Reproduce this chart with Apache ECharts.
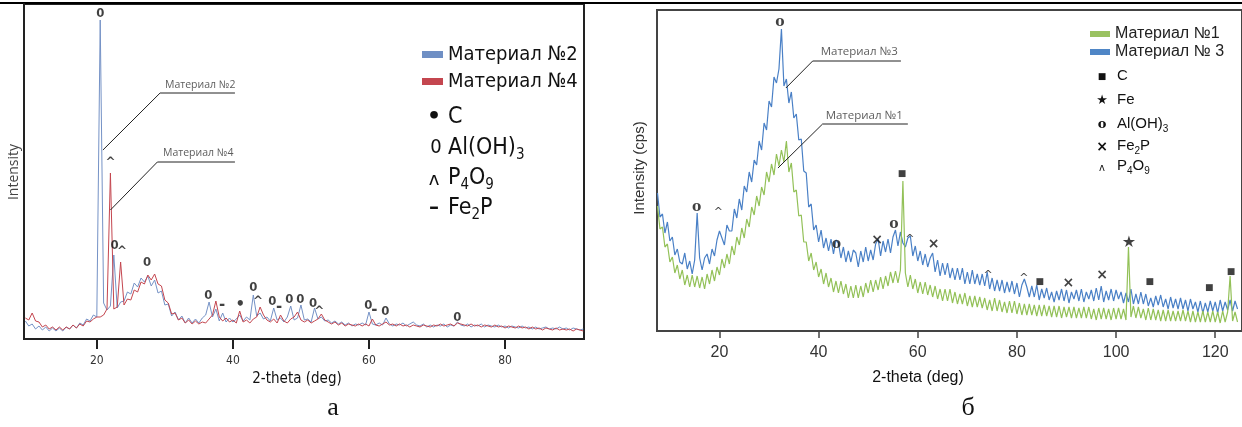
<!DOCTYPE html>
<html>
<head>
<meta charset="utf-8">
<script src="https://cdn.jsdelivr.net/npm/echarts@6/dist/echarts.min.js"></script>
<style>
  html, body { margin: 0; padding: 0; background: #fff; }
  #chart { width: 1242px; height: 427px; }
</style>
</head>
<body>
<div id="chart"></div>
<script>
// panel a: scan from 9.5 deg, step 0.5 deg
var leftStart = 9.5, leftStep = 0.5;
var mat2 = [
  18, 13, 15, 10, 13, 9, 12, 8, 11, 8,
  11, 8, 12, 10, 14, 11, 16, 14, 20, 18,
  24, 22, 319, 36, 29, 33, 84, 31, 37, 38,
  47, 45, 56, 52, 61, 57, 63, 53, 59, 46,
  48, 34, 35, 23, 27, 19, 23, 16, 21, 16,
  20, 16, 21, 24, 37, 22, 30, 18, 26, 17,
  21, 17, 20, 24, 18, 22, 19, 44, 23, 26,
  20, 22, 18, 31, 19, 21, 17, 22, 33, 19,
  21, 34, 19, 20, 17, 31, 20, 22, 18, 19,
  16, 18, 15, 17, 14, 16, 13, 15, 14, 16,
  14, 27, 15, 14, 16, 14, 21, 15, 13, 15,
  14, 16, 13, 15, 17, 14, 13, 15, 12, 14,
  12, 14, 13, 15, 12, 14, 13, 17, 14, 13,
  15, 12, 14, 13, 15, 12, 14, 13, 12, 14,
  12, 13, 11, 13, 12, 11, 13, 11, 12, 10,
  12, 10, 11, 12, 10, 11, 10, 12, 10, 11,
  9, 11, 10, 9, 10
];
var mat4 = [
  21, 19, 26, 18, 17, 12, 14, 10, 12, 9,
  12, 9, 12, 10, 14, 11, 15, 13, 18, 17,
  20, 22, 22, 24, 30, 166, 30, 32, 77, 34,
  40, 39, 49, 47, 57, 55, 64, 59, 65, 55,
  53, 39, 36, 25, 26, 19, 21, 16, 19, 15,
  18, 15, 17, 16, 20, 24, 38, 22, 18, 21,
  17, 19, 16, 28, 17, 19, 16, 20, 22, 32,
  24, 19, 17, 20, 16, 24, 18, 16, 20, 22,
  27, 19, 17, 19, 16, 18, 20, 25, 19, 17,
  15, 17, 14, 16, 13, 15, 14, 13, 15, 13,
  15, 13, 20, 14, 13, 15, 17, 14, 15, 13,
  15, 13, 14, 12, 14, 13, 12, 14, 13, 12,
  14, 13, 15, 13, 14, 15, 13, 16, 15, 14,
  13, 15, 13, 14, 12, 14, 13, 12, 14, 12,
  13, 11, 13, 12, 11, 13, 11, 12, 10, 12,
  10, 11, 9, 11, 10, 9, 11, 9, 10, 9,
  10, 8, 10, 9, 8
];

// panel b: scan from 7.5 deg, step 0.5 deg
var rightStart = 7.5, rightStep = 0.5;
var mat3 = [
  138, 114, 117, 98, 109, 90, 94, 76, 82, 69,
  67, 78, 62, 70, 57, 71, 118, 73, 61, 73,
  77, 67, 82, 75, 91, 100, 93, 86, 106, 100,
  100, 122, 113, 132, 121, 145, 139, 159, 149, 171,
  166, 190, 181, 208, 201, 230, 224, 254, 248, 262,
  302, 245, 252, 228, 239, 213, 217, 191, 192, 160,
  158, 124, 127, 101, 106, 89, 101, 83, 93, 80,
  92, 77, 91, 88, 73, 84, 69, 80, 69, 81,
  78, 64, 80, 69, 84, 70, 81, 71, 87, 92,
  75, 90, 79, 92, 78, 94, 101, 85, 99, 88,
  84, 93, 95, 75, 85, 70, 80, 66, 77, 64,
  73, 78, 59, 71, 55, 68, 56, 68, 53, 63,
  51, 63, 51, 63, 47, 59, 47, 61, 47, 57,
  46, 57, 45, 59, 42, 53, 40, 51, 40, 51,
  38, 49, 39, 50, 37, 48, 34, 46, 52, 44,
  34, 45, 34, 46, 31, 42, 33, 43, 31, 39,
  29, 40, 31, 42, 30, 41, 28, 39, 32, 41,
  30, 42, 29, 39, 32, 41, 30, 43, 31, 45,
  29, 40, 31, 42, 30, 41, 32, 39, 28, 38,
  29, 42, 27, 37, 27, 39, 27, 37, 25, 33,
  24, 35, 26, 36, 24, 32, 22, 34, 23, 32,
  22, 33, 22, 31, 20, 32, 22, 29, 19, 30,
  18, 28, 19, 30, 20, 29, 18, 31, 20, 29,
  21, 31, 20, 30, 22
];
var mat1 = [
  125, 102, 104, 84, 87, 69, 74, 58, 66, 52,
  61, 46, 56, 44, 56, 44, 55, 43, 54, 42,
  57, 47, 61, 50, 64, 56, 72, 63, 77, 67,
  85, 76, 94, 86, 103, 93, 112, 104, 124, 116,
  135, 125, 144, 136, 159, 149, 167, 156, 177, 165,
  181, 169, 190, 159, 168, 139, 141, 115, 116, 89,
  89, 70, 78, 61, 69, 54, 62, 47, 58, 44,
  53, 39, 50, 38, 50, 37, 47, 33, 45, 33,
  46, 33, 45, 34, 48, 38, 51, 39, 51, 41,
  54, 42, 55, 45, 59, 48, 60, 48, 61, 150,
  58, 44, 56, 42, 52, 38, 49, 37, 49, 36,
  46, 34, 45, 32, 42, 30, 42, 30, 42, 28,
  39, 27, 37, 27, 38, 25, 35, 24, 35, 24,
  34, 23, 33, 21, 31, 20, 33, 20, 31, 19,
  29, 18, 30, 18, 30, 17, 28, 16, 27, 16,
  27, 16, 26, 15, 26, 15, 26, 15, 25, 14,
  25, 14, 25, 13, 24, 14, 24, 13, 24, 13,
  23, 13, 24, 13, 24, 12, 22, 11, 23, 12,
  23, 12, 22, 11, 23, 12, 23, 12, 22, 11,
  84, 14, 25, 13, 24, 13, 22, 11, 23, 11,
  22, 11, 21, 10, 21, 10, 21, 10, 20, 10,
  20, 10, 21, 10, 20, 9, 20, 9, 19, 9,
  20, 9, 19, 9, 20, 9, 19, 8, 20, 9,
  19, 55, 10, 19, 9
];

var leftTicks = [20, 40, 60, 80];
var rightTicks = [20, 40, 60, 80, 100, 120];

// phase marks [2theta, height, sign]
var leftMarks = [
  [20.5, 325, '0'], [22, 176, '^'], [22.6, 93, '0'], [23.7, 87, '^'], [27.4, 76, '0'],
  [36.4, 43, '0'], [38.4, 34, '-'], [41.1, 34, '•'], [43.0, 51, '0'], [43.7, 37, '^'],
  [45.8, 37, '0'], [46.8, 32, '-'], [48.3, 39, '0'], [49.9, 39, '0'], [51.8, 35, '0'],
  [52.7, 27, '^'], [59.9, 33, '0'], [60.8, 29, '-'], [62.4, 27, '0'], [73.0, 21, '0']
];
var rightMarks = [
  [15.4, 124, 'o'], [19.8, 119, '^'], [32.2, 309, 'o'], [43.6, 87, 'o'], [51.8, 91, '×'],
  [55.2, 107, 'o'], [56.8, 157, '■'], [58.4, 92, '^'], [63.2, 87, '×'], [74.2, 56, '^'],
  [81.4, 53, '^'], [84.6, 49, '■'], [90.4, 48, '×'], [97.2, 56, '×'], [102.6, 88, '★'],
  [106.8, 49, '■'], [118.8, 43, '■'], [123.2, 59, '■']
];

var leftNotes = [[35.2, 254, 'Материал №2'], [34.9, 186, 'Материал №4']];
var leftArrows = [
  [[40.3, 246], [29.3, 246], [20.9, 189]],
  [[40.3, 177], [28.9, 177], [22.0, 129]]
];
var rightNotes = [[48.2, 279, 'Материал №3'], [49.2, 215, 'Материал №1']];
var rightArrows = [
  [[56.6, 270], [38.8, 270], [33.4, 243]],
  [[58.0, 207], [40.8, 207], [31.8, 163]]
];

var NARROW = '"DejaVu Sans Condensed", "Open Sans", sans-serif';

function toPairs(start, step, values) {
  return values.map(function (v, i) { return [start + i * step, v]; });
}

var leftMarkFont = {
  '0': { fontFamily: NARROW, fontWeight: 'bold', fontSize: 13 },
  '^': { fontFamily: 'DejaVu Sans', fontWeight: 'bold', fontSize: 12 },
  '-': { fontFamily: 'DejaVu Sans', fontWeight: 'bold', fontSize: 15 },
  '•': { fontFamily: 'DejaVu Sans', fontWeight: 'bold', fontSize: 15 }
};
var rightMarkFont = {
  'o': { fontFamily: 'DejaVu Serif', fontWeight: 'bold', fontSize: 14 },
  '^': { fontFamily: 'DejaVu Sans', fontSize: 11 },
  '×': { fontFamily: 'DejaVu Sans', fontWeight: 'bold', fontSize: 14 },
  '■': { fontFamily: 'DejaVu Sans', fontSize: 9 },
  '★': { fontFamily: 'DejaVu Sans', fontSize: 16 }
};

function markSeries(marks, fonts, idx) {
  return {
    type: 'scatter',
    xAxisIndex: idx,
    yAxisIndex: idx,
    symbolSize: 1,
    itemStyle: { color: 'rgba(0,0,0,0)' },
    silent: true,
    z: 5,
    data: marks.map(function (m) {
      var f = fonts[m[2]];
      return {
        value: [m[0], m[1]],
        label: {
          show: true, position: 'inside', formatter: m[2], color: '#111',
          fontFamily: f.fontFamily, fontWeight: f.fontWeight || 'normal', fontSize: f.fontSize
        }
      };
    })
  };
}

function noteSeries(notes, idx, size) {
  return {
    type: 'scatter',
    xAxisIndex: idx,
    yAxisIndex: idx,
    symbolSize: 1,
    itemStyle: { color: 'rgba(0,0,0,0)' },
    silent: true,
    z: 5,
    label: {
      show: true, position: 'inside', color: '#333', fontFamily: 'Open Sans', fontSize: size,
      formatter: function (p) { return p.data[2]; }
    },
    data: notes
  };
}

function arrowSeries(arrows, idx) {
  return {
    type: 'lines',
    coordinateSystem: 'cartesian2d',
    xAxisIndex: idx,
    yAxisIndex: idx,
    polyline: true,
    silent: true,
    symbol: ['none', 'arrow'],
    symbolSize: 7,
    lineStyle: { color: '#222', width: 1, opacity: 1 },
    z: 4,
    data: arrows.map(function (c) { return { coords: c }; })
  };
}

function keyText(x, y, text, size, family, sub) {
  return {
    type: 'text', x: x, y: y, silent: true,
    style: {
      text: text, fontSize: size, fontFamily: family, fill: '#111',
      lineHeight: Math.round(size * 1.3),
      align: 'left', verticalAlign: 'middle', textAlign: 'left', textVerticalAlign: 'middle',
      rich: {
        s: { fontSize: sub, lineHeight: sub, fontFamily: family, fill: '#111', verticalAlign: 'bottom' }
      }
    }
  };
}

function signText(x, y, text, size, family, weight) {
  return {
    type: 'text', x: x, y: y, silent: true,
    style: {
      text: text, fontSize: size, fontFamily: family, fontWeight: weight || 'normal', fill: '#111',
      align: 'center', verticalAlign: 'middle', textAlign: 'center', textVerticalAlign: 'middle'
    }
  };
}

var chart = echarts.init(document.getElementById('chart'));

var option = {
  animation: false,
  backgroundColor: '#fff',
  grid: [
    { left: 24, top: 4, width: 560, height: 335, show: true, borderColor: '#222', borderWidth: 2, backgroundColor: 'transparent' },
    { left: 657, top: 10, width: 590, height: 321, show: true, borderColor: '#444', borderWidth: 2, backgroundColor: 'transparent' }
  ],
  xAxis: [
    {
      type: 'value', gridIndex: 0, min: 9.3, max: 91.6,
      axisLine: { show: true, lineStyle: { color: '#222', width: 2 } },
      axisTick: { show: true, length: 10, customValues: leftTicks, lineStyle: { color: '#222', width: 2 } },
      axisLabel: { customValues: leftTicks, margin: 16, color: '#333', fontFamily: NARROW, fontSize: 12 },
      splitLine: { show: false }
    },
    {
      type: 'value', gridIndex: 1, min: 7.4, max: 125.4,
      axisLine: { show: true, lineStyle: { color: '#444', width: 2 } },
      axisTick: { show: true, length: 7, customValues: rightTicks, lineStyle: { color: '#444', width: 1.5 } },
      axisLabel: { customValues: rightTicks, margin: 14, color: '#333', fontFamily: 'Liberation Sans', fontSize: 16 },
      splitLine: { show: false }
    }
  ],
  yAxis: [
    {
      type: 'value', gridIndex: 0, min: 0, max: 335,
      axisLine: { show: true, lineStyle: { color: '#222', width: 2 } },
      axisTick: { show: false }, axisLabel: { show: false }, splitLine: { show: false }
    },
    {
      type: 'value', gridIndex: 1, min: 0, max: 321,
      axisLine: { show: true, lineStyle: { color: '#444', width: 2 } },
      axisTick: { show: false }, axisLabel: { show: false }, splitLine: { show: false }
    }
  ],
  legend: [
    {
      data: ['Материал №2', 'Материал №4'],
      left: 422, top: 41, orient: 'vertical', icon: 'rect',
      itemWidth: 21, itemHeight: 7, itemGap: 0, padding: 0,
      textStyle: { fontFamily: NARROW, fontSize: 20, color: '#111', lineHeight: 27 }
    },
    {
      data: ['Материал №1', 'Материал № 3'],
      left: 1090, top: 25, orient: 'vertical', icon: 'rect',
      itemWidth: 20, itemHeight: 6, itemGap: 0, padding: 0,
      textStyle: { fontFamily: 'Liberation Sans', fontSize: 16, color: '#222', lineHeight: 18 }
    }
  ],
  series: [
    {
      name: 'Материал №2', type: 'line', xAxisIndex: 0, yAxisIndex: 0,
      showSymbol: false, silent: true, color: '#6f8fc4',
      lineStyle: { width: 1, color: '#7592c6' },
      data: toPairs(leftStart, leftStep, mat2)
    },
    {
      name: 'Материал №4', type: 'line', xAxisIndex: 0, yAxisIndex: 0,
      showSymbol: false, silent: true, color: '#c4464f',
      lineStyle: { width: 1, color: '#c4464f' },
      data: toPairs(leftStart, leftStep, mat4)
    },
    markSeries(leftMarks, leftMarkFont, 0),
    noteSeries(leftNotes, 0, 10.5),
    arrowSeries(leftArrows, 0),
    {
      name: 'Материал № 3', type: 'line', xAxisIndex: 1, yAxisIndex: 1,
      showSymbol: false, silent: true, color: '#4f86c6',
      lineStyle: { width: 1.2, color: '#4a80c6' },
      data: toPairs(rightStart, rightStep, mat3)
    },
    {
      name: 'Материал №1', type: 'line', xAxisIndex: 1, yAxisIndex: 1,
      showSymbol: false, silent: true, color: '#9ac261',
      lineStyle: { width: 1.2, color: '#93c158' },
      data: toPairs(rightStart, rightStep, mat1)
    },
    markSeries(rightMarks, rightMarkFont, 1),
    noteSeries(rightNotes, 1, 11.5),
    arrowSeries(rightArrows, 1)
  ],
  graphic: [
    { type: 'line', silent: true, shape: { x1: 0, y1: 3, x2: 1242, y2: 3 }, style: { stroke: '#000', lineWidth: 2 } },
    {
      type: 'text', x: 14, y: 172, rotation: Math.PI / 2, silent: true,
      style: { text: 'Intensity', fontSize: 14, fontFamily: 'Open Sans', fill: '#444', align: 'center', verticalAlign: 'middle', textAlign: 'center', textVerticalAlign: 'middle' }
    },
    {
      type: 'text', x: 640, y: 168, rotation: Math.PI / 2, silent: true,
      style: { text: 'Intensity (cps)', fontSize: 15, fontFamily: 'Liberation Sans', fill: '#333', align: 'center', verticalAlign: 'middle', textAlign: 'center', textVerticalAlign: 'middle' }
    },
    signText(297, 379, '2-theta (deg)', 15, NARROW),
    signText(918, 378, '2-theta (deg)', 16, 'Liberation Sans'),
    signText(333, 408, 'а', 26, 'Liberation Serif'),
    signText(968, 408, 'б', 26, 'Liberation Serif'),

    signText(434, 117, '•', 22, 'DejaVu Sans', 'bold'),
    keyText(448, 117, 'C', 23, NARROW, 15),
    signText(436, 148, '0', 20, NARROW),
    keyText(448, 148, 'Al(OH){s|3}', 23, NARROW, 15),
    signText(434, 180, 'ʌ', 18, 'DejaVu Sans'),
    keyText(448, 178, 'P{s|4}O{s|9}', 23, NARROW, 15),
    signText(434, 208, '–', 20, 'DejaVu Sans', 'bold'),
    keyText(448, 208, 'Fe{s|2}P', 23, NARROW, 15),

    signText(1102, 77, '■', 9, 'DejaVu Sans'),
    keyText(1117, 76, 'C', 15, 'Liberation Sans', 10),
    signText(1102, 101, '★', 13, 'DejaVu Sans'),
    keyText(1117, 100, 'Fe', 15, 'Liberation Sans', 10),
    signText(1102, 125, 'o', 13, 'DejaVu Serif', 'bold'),
    keyText(1117, 124, 'Al(OH){s|3}', 15, 'Liberation Sans', 10),
    signText(1102, 147, '×', 14, 'DejaVu Sans', 'bold'),
    keyText(1117, 146, 'Fe{s|2}P', 15, 'Liberation Sans', 10),
    signText(1102, 168, 'ʌ', 10, 'DejaVu Sans'),
    keyText(1117, 166, 'P{s|4}O{s|9}', 15, 'Liberation Sans', 10)
  ]
};

chart.setOption(option);
</script>
</body>
</html>
